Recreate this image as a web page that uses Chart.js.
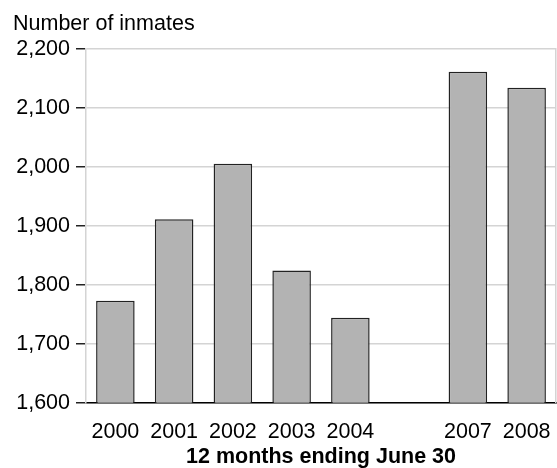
<!DOCTYPE html>
<html>
<head>
<meta charset="utf-8">
<script src="https://cdn.jsdelivr.net/npm/chart.js@4/dist/chart.umd.min.js"></script>
<style>
  html, body { margin: 0; padding: 0; background: #fff; }
  #wrap { width: 557px; height: 468px; }
</style>
</head>
<body>
<div id="wrap"><canvas id="myChart" width="557" height="468"></canvas></div>
<script>
// Datos del gráfico (2005 y 2006 no aparecen: hueco vacío)
var years = ['2000', '2001', '2002', '2003', '2004', '', '2007', '2008'];
var inmates = [1773, 1911, 2005, 1824, 1744, null, 2161, 2134];
var yTicks = [1600, 1700, 1800, 1900, 2000, 2100, 2200];

var fuente = "'Liberation Sans', Arial, sans-serif";
var tam = 21.5;
var gris = '#d4d4d4';

var ctx = document.getElementById('myChart').getContext('2d');
var myChart = new Chart(ctx, {
    type: 'bar',
    data: {
        labels: years,
        datasets: [{
            label: 'Number of inmates',
            data: inmates,
            backgroundColor: '#b3b3b3',
            borderColor: '#222222',
            borderWidth: 1.5,
            borderSkipped: false,
            categoryPercentage: 1,
            barPercentage: 0.656
        }]
    },
    options: {
        responsive: false,
        animation: false,
        layout: { padding: { top: 11, left: 13, right: 1, bottom: 0 } },
        plugins: {
            legend: { display: false },
            tooltip: { enabled: false },
            title: {
                display: true,
                text: 'Number of inmates',
                align: 'start',
                color: '#000',
                font: { family: fuente, size: tam, weight: 'normal', lineHeight: 1.2 },
                padding: { top: 0, bottom: 12 }
            }
        },
        scales: {
            x: {
                // sin rejilla, pero la longitud de marca sirve para bajar las etiquetas
                grid: { display: false, drawTicks: true, tickLength: 16 },
                border: { display: true, color: '#000', width: 1.5 },
                ticks: {
                    color: '#000',
                    padding: 0,
                    maxRotation: 0,
                    autoSkip: false,
                    font: { family: fuente, size: tam, lineHeight: 1.2 }
                },
                title: {
                    display: true,
                    text: '12 months ending June 30',
                    color: '#000',
                    font: { family: fuente, size: tam, weight: 'bold', lineHeight: 1 },
                    padding: { top: 2, bottom: 0 }
                }
            },
            y: {
                min: 1600,
                max: 2200,
                afterBuildTicks: function (scale) {
                    scale.ticks = yTicks.map(function (v) { return { value: v }; });
                },
                afterFit: function (scale) {
                    scale.width = 73;
                },
                grid: {
                    color: gris,
                    lineWidth: 1.5,
                    tickLength: 10,
                    tickColor: '#222',
                    tickWidth: 1.5
                },
                border: { display: true, color: gris, width: 1.5 },
                ticks: {
                    color: '#000',
                    padding: 6,
                    font: { family: fuente, size: tam },
                    callback: function (v) { return v.toLocaleString('en-US'); }
                }
            },
            derecha: {
                type: 'linear',
                position: 'right',
                min: 1600,
                max: 2200,
                grid: { display: false, drawTicks: false },
                border: { display: true, color: gris, width: 1.5 },
                ticks: { display: false }
            }
        }
    }
});
</script>
</body>
</html>
